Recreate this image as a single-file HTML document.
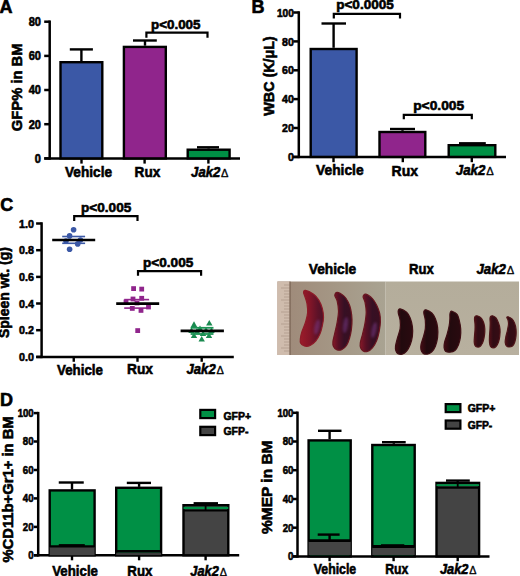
<!DOCTYPE html>
<html><head><meta charset="utf-8"><style>
html,body{margin:0;padding:0;background:#fff;overflow:hidden;}
svg{display:block;}
text{font-family:"Liberation Sans",sans-serif;font-weight:bold;fill:#000;stroke:#000;stroke-width:0.6px;}
</style></head><body>
<svg width="520" height="576" viewBox="0 0 520 576">
<rect width="520" height="576" fill="#fff"/>
<text x="-0.4" y="12.9" font-size="18" text-anchor="start" >A</text>
<line x1="49.7" y1="20.45" x2="49.7" y2="159.65" stroke="#000" stroke-width="2.5"/>
<line x1="44.2" y1="21.7" x2="49.7" y2="21.7" stroke="#000" stroke-width="2.5"/>
<text x="41.0" y="26.02" font-size="12" text-anchor="end" textLength="12.28" lengthAdjust="spacingAndGlyphs" >80</text>
<line x1="44.2" y1="55.9" x2="49.7" y2="55.9" stroke="#000" stroke-width="2.5"/>
<text x="41.0" y="60.22" font-size="12" text-anchor="end" textLength="12.28" lengthAdjust="spacingAndGlyphs" >60</text>
<line x1="44.2" y1="90.0" x2="49.7" y2="90.0" stroke="#000" stroke-width="2.5"/>
<text x="41.0" y="94.32" font-size="12" text-anchor="end" textLength="12.28" lengthAdjust="spacingAndGlyphs" >40</text>
<line x1="44.2" y1="124.2" x2="49.7" y2="124.2" stroke="#000" stroke-width="2.5"/>
<text x="41.0" y="128.52" font-size="12" text-anchor="end" textLength="12.28" lengthAdjust="spacingAndGlyphs" >20</text>
<line x1="44.2" y1="158.4" x2="49.7" y2="158.4" stroke="#000" stroke-width="2.5"/>
<text x="41.0" y="162.72" font-size="12" text-anchor="end" textLength="6.14" lengthAdjust="spacingAndGlyphs" >0</text>
<line x1="44.3" y1="158.4" x2="240" y2="158.4" stroke="#000" stroke-width="2.5"/>
<line x1="81.5" y1="158.4" x2="81.5" y2="163.6" stroke="#000" stroke-width="2.4"/>
<line x1="144.6" y1="158.4" x2="144.6" y2="163.6" stroke="#000" stroke-width="2.4"/>
<line x1="208.4" y1="158.4" x2="208.4" y2="163.6" stroke="#000" stroke-width="2.4"/>
<rect x="60.5" y="62.2" width="41.800000000000004" height="96.2" fill="#3b58a6" stroke="#000" stroke-width="2.4"/>
<line x1="81.4" y1="49.4" x2="81.4" y2="61" stroke="#000" stroke-width="2.4"/>
<line x1="69.8" y1="49.4" x2="92.9" y2="49.4" stroke="#000" stroke-width="2.4"/>
<rect x="123.9" y="46.900000000000006" width="41.9" height="111.5" fill="#90258c" stroke="#000" stroke-width="2.4"/>
<line x1="145" y1="40.5" x2="145" y2="45.7" stroke="#000" stroke-width="2.4"/>
<line x1="133" y1="40.5" x2="156.8" y2="40.5" stroke="#000" stroke-width="2.4"/>
<rect x="187.7" y="149.7" width="41.90000000000001" height="8.700000000000006" fill="#009045" stroke="#000" stroke-width="2.4"/>
<line x1="208.6" y1="147.3" x2="208.6" y2="148.5" stroke="#000" stroke-width="2.4"/>
<line x1="197" y1="147.3" x2="219" y2="147.3" stroke="#000" stroke-width="2.4"/>
<polyline points="146.4,37.8 146.4,32.6 207.5,32.6 207.5,37.8" fill="none" stroke="#000" stroke-width="2.2"/>
<text x="151" y="28.6" font-size="13.5" text-anchor="start" textLength="49.5" lengthAdjust="spacingAndGlyphs" >p&lt;0.005</text>
<text x="65" y="177.3" font-size="15" text-anchor="start" textLength="47" lengthAdjust="spacingAndGlyphs" >Vehicle</text>
<text x="134.6" y="177" font-size="15" text-anchor="start" textLength="25.7" lengthAdjust="spacingAndGlyphs" >Rux</text>
<text x="191.1" y="176.7" font-size="15" font-style="italic" textLength="29.14" lengthAdjust="spacingAndGlyphs">Jak2</text>
<text x="221.12" y="176.7" font-size="11.02" style="font-weight:normal;stroke-width:0.35px">&#916;</text>
<text transform="translate(22.3,131.2) rotate(-90)" x="0" y="0" font-size="15" textLength="87.8" lengthAdjust="spacingAndGlyphs">GFP% in BM</text>
<text x="251.4" y="13" font-size="18" text-anchor="start" >B</text>
<line x1="298.8" y1="11.25" x2="298.8" y2="158.15" stroke="#000" stroke-width="2.5"/>
<line x1="293.3" y1="12.5" x2="298.8" y2="12.5" stroke="#000" stroke-width="2.5"/>
<text x="293.8" y="16.64" font-size="11.5" text-anchor="end" textLength="16.88" lengthAdjust="spacingAndGlyphs" >100</text>
<line x1="293.3" y1="41.4" x2="298.8" y2="41.4" stroke="#000" stroke-width="2.5"/>
<text x="293.8" y="45.54" font-size="11.5" text-anchor="end" textLength="11.77" lengthAdjust="spacingAndGlyphs" >80</text>
<line x1="293.3" y1="70.3" x2="298.8" y2="70.3" stroke="#000" stroke-width="2.5"/>
<text x="293.8" y="74.44" font-size="11.5" text-anchor="end" textLength="11.77" lengthAdjust="spacingAndGlyphs" >60</text>
<line x1="293.3" y1="99.1" x2="298.8" y2="99.1" stroke="#000" stroke-width="2.5"/>
<text x="293.8" y="103.24" font-size="11.5" text-anchor="end" textLength="11.77" lengthAdjust="spacingAndGlyphs" >40</text>
<line x1="293.3" y1="128" x2="298.8" y2="128" stroke="#000" stroke-width="2.5"/>
<text x="293.8" y="132.14" font-size="11.5" text-anchor="end" textLength="11.77" lengthAdjust="spacingAndGlyphs" >20</text>
<line x1="293.3" y1="156.9" x2="298.8" y2="156.9" stroke="#000" stroke-width="2.5"/>
<text x="293.8" y="161.04" font-size="11.5" text-anchor="end" textLength="5.88" lengthAdjust="spacingAndGlyphs" >0</text>
<line x1="293" y1="156.9" x2="506" y2="156.9" stroke="#000" stroke-width="2.5"/>
<line x1="333.5" y1="156.9" x2="333.5" y2="162.2" stroke="#000" stroke-width="2.4"/>
<line x1="402.8" y1="156.9" x2="402.8" y2="162.2" stroke="#000" stroke-width="2.4"/>
<line x1="471.8" y1="156.9" x2="471.8" y2="162.2" stroke="#000" stroke-width="2.4"/>
<rect x="310.7" y="49.0" width="45.90000000000001" height="107.9" fill="#3b58a6" stroke="#000" stroke-width="2.4"/>
<line x1="333.6" y1="23.5" x2="333.6" y2="47.8" stroke="#000" stroke-width="2.4"/>
<line x1="321.5" y1="23.5" x2="346" y2="23.5" stroke="#000" stroke-width="2.4"/>
<rect x="379.5" y="132.0" width="45.79999999999999" height="24.899999999999995" fill="#90258c" stroke="#000" stroke-width="2.4"/>
<line x1="402.5" y1="129" x2="402.5" y2="130.8" stroke="#000" stroke-width="2.4"/>
<line x1="390" y1="129" x2="415" y2="129" stroke="#000" stroke-width="2.4"/>
<rect x="448.7" y="145.2" width="46.6" height="11.700000000000006" fill="#009045" stroke="#000" stroke-width="2.4"/>
<line x1="472" y1="143.3" x2="472" y2="144" stroke="#000" stroke-width="2.4"/>
<line x1="459" y1="143.3" x2="485.8" y2="143.3" stroke="#000" stroke-width="2.4"/>
<polyline points="333.8,18.6 333.8,13.8 400,13.8 400,18.6" fill="none" stroke="#000" stroke-width="2.2"/>
<text x="336.2" y="9.1" font-size="13.5" text-anchor="start" textLength="57.6" lengthAdjust="spacingAndGlyphs" >p&lt;0.0005</text>
<polyline points="403.8,119.3 403.8,114.9 471.8,114.9 471.8,119.3" fill="none" stroke="#000" stroke-width="2.2"/>
<text x="413.2" y="110.3" font-size="13.5" text-anchor="start" textLength="51" lengthAdjust="spacingAndGlyphs" >p&lt;0.005</text>
<text x="316" y="175.2" font-size="15" text-anchor="start" textLength="47.6" lengthAdjust="spacingAndGlyphs" >Vehicle</text>
<text x="391.5" y="175.6" font-size="15" text-anchor="start" textLength="26.5" lengthAdjust="spacingAndGlyphs" >Rux</text>
<text x="455.8" y="174.8" font-size="15" font-style="italic" textLength="29.60" lengthAdjust="spacingAndGlyphs">Jak2</text>
<text x="486.30" y="174.8" font-size="11.20" style="font-weight:normal;stroke-width:0.35px">&#916;</text>
<text transform="translate(274.2,115.7) rotate(-90)" x="0" y="0" font-size="14" textLength="79.5" lengthAdjust="spacingAndGlyphs">WBC (K/&#956;L)</text>
<text x="0.3" y="211.2" font-size="18" text-anchor="start" >C</text>
<line x1="41.6" y1="222.25" x2="41.6" y2="358.15" stroke="#000" stroke-width="2.5"/>
<line x1="36.1" y1="223.5" x2="41.6" y2="223.5" stroke="#000" stroke-width="2.5"/>
<text x="33.9" y="227.64" font-size="11.5" text-anchor="end" textLength="14.87" lengthAdjust="spacingAndGlyphs" >1.0</text>
<line x1="36.1" y1="250.2" x2="41.6" y2="250.2" stroke="#000" stroke-width="2.5"/>
<text x="33.9" y="254.33999999999997" font-size="11.5" text-anchor="end" textLength="14.87" lengthAdjust="spacingAndGlyphs" >0.8</text>
<line x1="36.1" y1="276.9" x2="41.6" y2="276.9" stroke="#000" stroke-width="2.5"/>
<text x="33.9" y="281.03999999999996" font-size="11.5" text-anchor="end" textLength="14.87" lengthAdjust="spacingAndGlyphs" >0.6</text>
<line x1="36.1" y1="303.5" x2="41.6" y2="303.5" stroke="#000" stroke-width="2.5"/>
<text x="33.9" y="307.64" font-size="11.5" text-anchor="end" textLength="14.87" lengthAdjust="spacingAndGlyphs" >0.4</text>
<line x1="36.1" y1="330.2" x2="41.6" y2="330.2" stroke="#000" stroke-width="2.5"/>
<text x="33.9" y="334.34" font-size="11.5" text-anchor="end" textLength="14.87" lengthAdjust="spacingAndGlyphs" >0.2</text>
<line x1="36.1" y1="356.9" x2="41.6" y2="356.9" stroke="#000" stroke-width="2.5"/>
<text x="33.9" y="361.03999999999996" font-size="11.5" text-anchor="end" textLength="14.87" lengthAdjust="spacingAndGlyphs" >0.0</text>
<line x1="36.3" y1="356.9" x2="233.8" y2="356.9" stroke="#000" stroke-width="2.5"/>
<line x1="73.75" y1="356.9" x2="73.75" y2="361.8" stroke="#000" stroke-width="2.4"/>
<line x1="137.5" y1="356.9" x2="137.5" y2="361.8" stroke="#000" stroke-width="2.4"/>
<line x1="201.7" y1="356.9" x2="201.7" y2="361.8" stroke="#000" stroke-width="2.4"/>
<circle cx="73.6" cy="229.8" r="2.8" fill="#3b58a6"/>
<circle cx="69.6" cy="249.3" r="2.8" fill="#3b58a6"/>
<circle cx="69.6" cy="235.9" r="2.8" fill="#3b58a6"/>
<circle cx="77.7" cy="243.9" r="2.8" fill="#3b58a6"/>
<circle cx="80.4" cy="240" r="2.8" fill="#3b58a6"/>
<circle cx="66" cy="241" r="2.8" fill="#3b58a6"/>
<line x1="62.2" y1="236.5" x2="85.1" y2="236.5" stroke="#3b58a6" stroke-width="1.6"/>
<line x1="62.2" y1="243.3" x2="85.1" y2="243.3" stroke="#3b58a6" stroke-width="1.6"/>
<line x1="52.2" y1="240" x2="95.2" y2="240" stroke="#000" stroke-width="2.7"/>
<rect x="131.2" y="286.20000000000005" width="4.8" height="4.8" fill="#90258c"/>
<rect x="139.29999999999998" y="286.70000000000005" width="4.8" height="4.8" fill="#90258c"/>
<rect x="130.6" y="296.6" width="4.8" height="4.8" fill="#90258c"/>
<rect x="139.29999999999998" y="295.90000000000003" width="4.8" height="4.8" fill="#90258c"/>
<rect x="129.9" y="306.0" width="4.8" height="4.8" fill="#90258c"/>
<rect x="138.6" y="308.0" width="4.8" height="4.8" fill="#90258c"/>
<rect x="146.1" y="304.6" width="4.8" height="4.8" fill="#90258c"/>
<rect x="135.29999999999998" y="328.20000000000005" width="4.8" height="4.8" fill="#90258c"/>
<rect x="123.6" y="299.6" width="4.8" height="4.8" fill="#90258c"/>
<rect x="134.6" y="300.6" width="4.8" height="4.8" fill="#90258c"/>
<line x1="124.2" y1="299.6" x2="149.1" y2="299.6" stroke="#90258c" stroke-width="1.6"/>
<line x1="124.2" y1="308.1" x2="149.1" y2="308.1" stroke="#90258c" stroke-width="1.6"/>
<line x1="116.2" y1="303.6" x2="159.2" y2="303.6" stroke="#000" stroke-width="2.7"/>
<polygon points="194,321.3 190.8,326.90000000000003 197.2,326.90000000000003" fill="#1a8a50"/>
<polygon points="209.3,320 206.10000000000002,325.6 212.5,325.6" fill="#1a8a50"/>
<polygon points="201.7,335.9 198.5,341.5 204.89999999999998,341.5" fill="#1a8a50"/>
<polygon points="194,332.5 190.8,338.1 197.2,338.1" fill="#1a8a50"/>
<polygon points="209,332.5 205.8,338.1 212.2,338.1" fill="#1a8a50"/>
<polygon points="197,328 193.8,333.6 200.2,333.6" fill="#1a8a50"/>
<polygon points="206,327 202.8,332.6 209.2,332.6" fill="#1a8a50"/>
<polygon points="200,325.5 196.8,331.1 203.2,331.1" fill="#1a8a50"/>
<polygon points="203,330.5 199.8,336.1 206.2,336.1" fill="#1a8a50"/>
<polygon points="191.5,327.5 188.3,333.1 194.7,333.1" fill="#1a8a50"/>
<polygon points="211.5,327.5 208.3,333.1 214.7,333.1" fill="#1a8a50"/>
<line x1="190.6" y1="327.8" x2="213.5" y2="327.8" stroke="#1b9455" stroke-width="1.8"/>
<line x1="190.6" y1="334" x2="213.5" y2="334" stroke="#1b9455" stroke-width="1.8"/>
<line x1="180.6" y1="330.8" x2="223.9" y2="330.8" stroke="#000" stroke-width="2.7"/>
<polyline points="74.2,221 74.2,216.2 137.5,216.2 137.5,221" fill="none" stroke="#000" stroke-width="2.2"/>
<text x="81" y="212.2" font-size="13.5" text-anchor="start" textLength="50.3" lengthAdjust="spacingAndGlyphs" >p&lt;0.005</text>
<polyline points="138,275.8 138,271.2 201.1,271.2 201.1,275.8" fill="none" stroke="#000" stroke-width="2.2"/>
<text x="143" y="267.1" font-size="13.5" text-anchor="start" textLength="50.3" lengthAdjust="spacingAndGlyphs" >p&lt;0.005</text>
<text x="57" y="374.5" font-size="15" text-anchor="start" textLength="46" lengthAdjust="spacingAndGlyphs" >Vehicle</text>
<text x="127" y="373.8" font-size="15" text-anchor="start" textLength="26" lengthAdjust="spacingAndGlyphs" >Rux</text>
<text x="186.6" y="373.9" font-size="15" font-style="italic" textLength="29.06" lengthAdjust="spacingAndGlyphs">Jak2</text>
<text x="216.54" y="373.9" font-size="11.00" style="font-weight:normal;stroke-width:0.35px">&#916;</text>
<text transform="translate(9.2,338.1) rotate(-90)" x="0" y="0" font-size="15" textLength="91" lengthAdjust="spacingAndGlyphs">Spleen wt. (g)</text>
<defs><linearGradient id="gv1" x1="0" y1="0" x2="1" y2="0"><stop offset="0" stop-color="#9c1c2a"/><stop offset="0.4" stop-color="#841628"/><stop offset="0.75" stop-color="#5e1228"/><stop offset="1" stop-color="#4e1226"/></linearGradient><linearGradient id="gv2" x1="0" y1="0" x2="1" y2="0"><stop offset="0" stop-color="#861828"/><stop offset="0.3" stop-color="#561024"/><stop offset="0.6" stop-color="#361024"/><stop offset="1" stop-color="#3a0e20"/></linearGradient><linearGradient id="gr" x1="0" y1="0" x2="1" y2="0"><stop offset="0" stop-color="#440c14"/><stop offset="0.35" stop-color="#220a0e"/><stop offset="1" stop-color="#2a0a10"/></linearGradient><linearGradient id="gj" x1="0" y1="0" x2="1" y2="0"><stop offset="0" stop-color="#521018"/><stop offset="0.35" stop-color="#300c14"/><stop offset="1" stop-color="#380c14"/></linearGradient><linearGradient id="bgv" x1="0" y1="0" x2="1" y2="0"><stop offset="0" stop-color="#9e8878"/><stop offset="0.5" stop-color="#a49684"/><stop offset="1" stop-color="#a9a392"/></linearGradient><filter id="blr" x="-1" y="-1" width="3" height="3"><feGaussianBlur stdDeviation="1.3"/></filter><linearGradient id="bgr" x1="0" y1="0" x2="0" y2="1"><stop offset="0" stop-color="#b4ad9b"/><stop offset="1" stop-color="#b8b09f"/></linearGradient></defs>
<rect x="277.5" y="281.5" width="108" height="73.5" fill="url(#bgv)"/>
<rect x="385.4" y="281.5" width="133.6" height="73.5" fill="url(#bgr)"/>
<rect x="277.2" y="281.5" width="12.6" height="73.5" fill="#cfbcad"/>
<line x1="284" y1="285" x2="289.5" y2="285" stroke="#9a8676" stroke-width="0.5"/>
<line x1="281" y1="288" x2="289.5" y2="288" stroke="#9a8676" stroke-width="0.5"/>
<line x1="284" y1="291" x2="289.5" y2="291" stroke="#9a8676" stroke-width="0.5"/>
<line x1="284" y1="294" x2="289.5" y2="294" stroke="#9a8676" stroke-width="0.5"/>
<line x1="284" y1="297" x2="289.5" y2="297" stroke="#9a8676" stroke-width="0.5"/>
<line x1="281" y1="300" x2="289.5" y2="300" stroke="#9a8676" stroke-width="0.5"/>
<line x1="284" y1="303" x2="289.5" y2="303" stroke="#9a8676" stroke-width="0.5"/>
<line x1="284" y1="306" x2="289.5" y2="306" stroke="#9a8676" stroke-width="0.5"/>
<line x1="284" y1="309" x2="289.5" y2="309" stroke="#9a8676" stroke-width="0.5"/>
<line x1="281" y1="312" x2="289.5" y2="312" stroke="#9a8676" stroke-width="0.5"/>
<line x1="284" y1="315" x2="289.5" y2="315" stroke="#9a8676" stroke-width="0.5"/>
<line x1="284" y1="318" x2="289.5" y2="318" stroke="#9a8676" stroke-width="0.5"/>
<line x1="284" y1="321" x2="289.5" y2="321" stroke="#9a8676" stroke-width="0.5"/>
<line x1="281" y1="324" x2="289.5" y2="324" stroke="#9a8676" stroke-width="0.5"/>
<line x1="284" y1="327" x2="289.5" y2="327" stroke="#9a8676" stroke-width="0.5"/>
<line x1="284" y1="330" x2="289.5" y2="330" stroke="#9a8676" stroke-width="0.5"/>
<line x1="284" y1="333" x2="289.5" y2="333" stroke="#9a8676" stroke-width="0.5"/>
<line x1="281" y1="336" x2="289.5" y2="336" stroke="#9a8676" stroke-width="0.5"/>
<line x1="284" y1="339" x2="289.5" y2="339" stroke="#9a8676" stroke-width="0.5"/>
<line x1="284" y1="342" x2="289.5" y2="342" stroke="#9a8676" stroke-width="0.5"/>
<line x1="284" y1="345" x2="289.5" y2="345" stroke="#9a8676" stroke-width="0.5"/>
<line x1="281" y1="348" x2="289.5" y2="348" stroke="#9a8676" stroke-width="0.5"/>
<line x1="284" y1="351" x2="289.5" y2="351" stroke="#9a8676" stroke-width="0.5"/>
<line x1="290" y1="281.5" x2="290" y2="355" stroke="#6e5848" stroke-width="1"/>
<path d="M305.5,290.3 C307.2,290.6 311.4,292.7 313.6,294.3 C315.8,295.9 317.4,297.8 318.8,300.1 C320.2,302.4 321.5,305.4 322.3,308.3 C323.1,311.2 323.5,314.7 323.5,317.6 C323.5,320.5 322.9,323.0 322.3,325.7 C321.7,328.4 321.1,331.3 320.0,333.8 C318.9,336.3 317.5,338.9 315.9,340.8 C314.2,342.8 312.0,344.6 310.1,345.5 C308.2,346.4 305.9,346.4 304.3,346.0 C302.7,345.6 301.2,344.4 300.6,343.1 C300.0,341.9 300.2,340.4 300.4,338.5 C300.6,336.6 301.1,334.2 302.0,331.5 C302.9,328.8 304.6,325.3 305.5,322.2 C306.4,319.1 307.4,316.0 307.6,312.9 C307.9,309.8 307.4,306.3 307.0,303.6 C306.6,300.9 305.5,298.5 304.9,296.6 C304.3,294.7 303.5,293.4 303.6,292.3 C303.7,291.2 303.8,290.0 305.5,290.3Z" fill="url(#gv1)" stroke="#8e1c28" stroke-width="1.2"/>
<path d="M337.2,292.3 C338.7,292.4 342.1,294.5 344.0,296.1 C345.9,297.8 347.2,299.9 348.3,302.2 C349.4,304.4 350.2,306.7 350.8,309.6 C351.4,312.5 351.9,316.2 352.0,319.5 C352.1,322.8 351.8,326.3 351.4,329.4 C351.0,332.5 350.4,335.3 349.6,338.0 C348.8,340.7 347.8,343.4 346.5,345.4 C345.2,347.3 343.2,349.0 341.6,349.7 C340.0,350.4 338.0,350.2 336.6,349.7 C335.2,349.2 334.1,347.9 333.5,346.6 C332.9,345.3 332.7,344.0 332.9,341.7 C333.1,339.4 334.1,336.3 334.8,333.0 C335.5,329.7 336.6,325.7 337.2,322.0 C337.8,318.3 338.5,314.4 338.5,310.9 C338.5,307.4 337.8,303.6 337.2,301.0 C336.6,298.4 334.8,296.9 334.8,295.5 C334.8,294.1 335.7,292.2 337.2,292.3Z" fill="url(#gv2)" stroke="#6a1620" stroke-width="1.2"/>
<path d="M365.8,294.2 C367.4,294.5 370.6,296.8 372.4,298.6 C374.2,300.5 375.5,302.9 376.7,305.3 C377.9,307.8 379.1,310.5 379.7,313.3 C380.3,316.1 380.5,318.9 380.4,322.0 C380.3,325.1 379.7,328.7 379.1,331.8 C378.5,334.9 377.8,337.7 376.7,340.4 C375.6,343.1 373.9,345.9 372.4,347.8 C370.8,349.7 368.9,351.0 367.4,351.5 C365.8,352.0 364.2,351.5 363.1,350.9 C362.0,350.3 361.1,349.1 360.6,347.8 C360.1,346.5 360.0,345.1 360.3,342.9 C360.6,340.6 361.7,337.6 362.5,334.3 C363.3,331.0 364.4,326.9 365.0,323.2 C365.6,319.5 366.2,315.6 366.2,312.1 C366.2,308.6 365.5,304.8 365.0,302.2 C364.5,299.6 363.0,298.0 363.1,296.7 C363.2,295.4 364.2,293.9 365.8,294.2Z" fill="url(#gv2)" stroke="#6a1620" stroke-width="1.2"/>
<path d="M400.2,308.9 C401.6,309.2 404.9,310.8 406.6,312.3 C408.3,313.8 409.2,315.6 410.2,318.0 C411.2,320.4 412.0,323.7 412.4,326.7 C412.8,329.7 412.8,333.1 412.4,336.1 C412.0,339.1 411.2,342.2 410.2,344.7 C409.2,347.2 407.9,349.6 406.6,351.2 C405.3,352.8 403.8,353.7 402.3,354.1 C400.9,354.5 399.0,354.3 397.9,353.7 C396.8,353.1 396.2,351.8 395.8,350.5 C395.4,349.2 395.3,348.1 395.5,346.2 C395.7,344.3 396.4,341.8 397.2,338.9 C398.0,336.0 399.6,331.9 400.1,328.8 C400.6,325.7 400.4,322.7 400.1,320.2 C399.8,317.7 398.7,315.3 398.4,313.7 C398.1,312.1 398.0,311.3 398.3,310.5 C398.6,309.7 398.8,308.6 400.2,308.9Z" fill="url(#gr)" stroke="#3e0e14" stroke-width="1.2"/>
<path d="M426.0,309.8 C427.3,310.1 430.2,311.5 431.8,313.0 C433.4,314.5 434.4,316.4 435.4,318.8 C436.4,321.2 437.2,324.3 437.6,327.4 C438.0,330.5 438.0,334.4 437.6,337.5 C437.2,340.6 436.4,343.8 435.4,346.2 C434.4,348.6 433.1,350.6 431.8,351.9 C430.5,353.2 428.9,353.9 427.5,354.1 C426.1,354.4 424.3,354.1 423.2,353.4 C422.1,352.7 421.4,351.2 421.0,349.8 C420.6,348.4 420.6,346.8 421.0,344.7 C421.4,342.6 422.5,340.1 423.2,337.5 C423.9,334.9 424.9,331.7 425.3,328.8 C425.7,325.9 425.5,322.7 425.3,320.2 C425.1,317.7 424.1,315.2 423.9,313.7 C423.7,312.2 423.6,311.6 424.0,311.0 C424.4,310.4 424.7,309.5 426.0,309.8Z" fill="url(#gr)" stroke="#3e0e14" stroke-width="1.2"/>
<path d="M452.0,311.3 C453.1,311.7 455.9,312.9 457.1,314.4 C458.3,315.9 458.6,317.8 459.2,320.2 C459.8,322.6 460.5,325.9 460.7,328.8 C460.9,331.7 460.8,334.9 460.4,337.5 C460.0,340.1 459.4,342.5 458.5,344.7 C457.6,346.9 456.3,349.2 454.9,350.5 C453.5,351.8 451.5,352.1 449.9,352.2 C448.3,352.3 446.5,352.0 445.5,351.2 C444.5,350.4 444.3,349.0 444.1,347.6 C443.9,346.2 444.0,344.8 444.5,342.6 C445.0,340.4 446.2,337.4 447.0,334.6 C447.8,331.8 448.6,328.6 449.1,326.0 C449.6,323.4 449.8,320.7 449.9,318.8 C450.0,316.9 449.8,315.5 449.9,314.4 C450.0,313.3 450.1,312.5 450.5,312.0 C450.9,311.5 450.9,310.9 452.0,311.3Z" fill="url(#gr)" stroke="#3e0e14" stroke-width="1.2"/>
<path d="M477.0,315.8 C477.9,316.0 479.5,316.6 480.5,317.5 C481.5,318.4 482.3,319.6 483.0,321.0 C483.7,322.4 484.2,324.2 484.5,326.0 C484.8,327.8 484.9,330.0 484.8,332.0 C484.7,334.0 484.4,336.2 484.0,338.0 C483.6,339.8 483.2,341.6 482.5,343.0 C481.8,344.4 480.9,345.8 480.0,346.5 C479.1,347.2 477.8,347.2 477.0,347.0 C476.2,346.8 475.5,346.3 475.0,345.5 C474.5,344.7 474.3,343.6 474.2,342.0 C474.1,340.4 474.4,338.0 474.5,336.0 C474.6,334.0 474.9,332.0 475.0,330.0 C475.1,328.0 475.1,325.8 475.0,324.0 C474.9,322.2 474.5,320.2 474.5,319.0 C474.5,317.8 474.6,317.0 475.0,316.5 C475.4,316.0 476.1,315.6 477.0,315.8Z" fill="url(#gj)" stroke="#4e1418" stroke-width="1.2"/>
<path d="M492.5,315.8 C493.4,316.1 495.0,316.8 496.0,318.0 C497.0,319.2 497.8,321.2 498.5,323.0 C499.2,324.8 499.8,326.8 500.0,329.0 C500.2,331.2 500.1,333.8 499.8,336.0 C499.6,338.2 499.1,340.2 498.5,342.0 C497.9,343.8 496.9,345.5 496.0,346.5 C495.1,347.5 493.9,347.8 493.0,347.8 C492.1,347.8 491.1,347.4 490.5,346.5 C489.9,345.6 489.7,344.2 489.5,342.5 C489.3,340.8 489.4,338.2 489.5,336.0 C489.6,333.8 489.9,331.2 490.0,329.0 C490.1,326.8 490.2,324.8 490.2,323.0 C490.2,321.2 489.9,319.6 490.0,318.5 C490.1,317.4 490.2,316.9 490.6,316.5 C491.0,316.1 491.6,315.6 492.5,315.8Z" fill="url(#gj)" stroke="#4e1418" stroke-width="1.2"/>
<path d="M508.0,316.8 C508.9,317.1 510.9,318.0 512.0,319.0 C513.1,320.0 513.8,321.3 514.5,323.0 C515.2,324.7 515.8,326.8 516.0,329.0 C516.2,331.2 516.2,333.8 516.0,336.0 C515.8,338.2 515.4,340.3 514.8,342.0 C514.2,343.7 513.5,345.2 512.5,346.0 C511.5,346.8 510.0,347.0 509.0,347.0 C508.0,347.0 507.1,346.8 506.5,346.0 C505.9,345.2 505.3,344.0 505.2,342.5 C505.1,341.0 505.4,339.1 505.8,337.0 C506.2,334.9 507.1,332.2 507.5,330.0 C507.9,327.8 508.4,325.7 508.5,324.0 C508.6,322.3 508.3,321.1 508.0,320.0 C507.7,318.9 506.8,318.0 506.8,317.5 C506.8,317.0 507.1,316.6 508.0,316.8Z" fill="url(#gj)" stroke="#4e1418" stroke-width="1.2"/>
<ellipse cx="317" cy="327" rx="2.6" ry="7.5" transform="rotate(12 317 327)" fill="#7a3a8a" opacity="0.5" filter="url(#blr)"/>
<ellipse cx="345.5" cy="325" rx="2.4" ry="8" transform="rotate(8 345.5 325)" fill="#7a3a8a" opacity="0.5" filter="url(#blr)"/>
<ellipse cx="374" cy="330" rx="2.4" ry="8" transform="rotate(12 374 330)" fill="#7a3a8a" opacity="0.5" filter="url(#blr)"/>
<text x="308.75" y="274.3" font-size="15" text-anchor="start" textLength="47.5" lengthAdjust="spacingAndGlyphs" >Vehicle</text>
<text x="409" y="274.2" font-size="15" text-anchor="start" textLength="24.8" lengthAdjust="spacingAndGlyphs" >Rux</text>
<text x="476.5" y="273.9" font-size="15" font-style="italic" textLength="29.45" lengthAdjust="spacingAndGlyphs">Jak2</text>
<text x="506.84" y="273.9" font-size="11.14" style="font-weight:normal;stroke-width:0.35px">&#916;</text>
<text x="0" y="405.7" font-size="18" text-anchor="start" >D</text>
<line x1="38.2" y1="411.85" x2="38.2" y2="556.55" stroke="#000" stroke-width="2.5"/>
<line x1="33.7" y1="413.1" x2="38.2" y2="413.1" stroke="#000" stroke-width="2.5"/>
<text x="33.6" y="417.06" font-size="11" text-anchor="end" textLength="15.97" lengthAdjust="spacingAndGlyphs" >100</text>
<line x1="33.7" y1="441.5" x2="38.2" y2="441.5" stroke="#000" stroke-width="2.5"/>
<text x="33.6" y="445.46" font-size="11" text-anchor="end" textLength="10.77" lengthAdjust="spacingAndGlyphs" >80</text>
<line x1="33.7" y1="470" x2="38.2" y2="470" stroke="#000" stroke-width="2.5"/>
<text x="33.6" y="473.96" font-size="11" text-anchor="end" textLength="10.77" lengthAdjust="spacingAndGlyphs" >60</text>
<line x1="33.7" y1="498.4" x2="38.2" y2="498.4" stroke="#000" stroke-width="2.5"/>
<text x="33.6" y="502.35999999999996" font-size="11" text-anchor="end" textLength="10.77" lengthAdjust="spacingAndGlyphs" >40</text>
<line x1="33.7" y1="526.9" x2="38.2" y2="526.9" stroke="#000" stroke-width="2.5"/>
<text x="33.6" y="530.86" font-size="11" text-anchor="end" textLength="10.77" lengthAdjust="spacingAndGlyphs" >20</text>
<line x1="33.7" y1="555.3" x2="38.2" y2="555.3" stroke="#000" stroke-width="2.5"/>
<text x="33.6" y="559.26" font-size="11" text-anchor="end" textLength="5.38" lengthAdjust="spacingAndGlyphs" >0</text>
<line x1="34" y1="555.3" x2="239.2" y2="555.3" stroke="#000" stroke-width="2.5"/>
<line x1="72" y1="555.3" x2="72" y2="560.3" stroke="#000" stroke-width="2.4"/>
<line x1="139.1" y1="555.3" x2="139.1" y2="560.3" stroke="#000" stroke-width="2.4"/>
<line x1="205.6" y1="555.3" x2="205.6" y2="560.3" stroke="#000" stroke-width="2.4"/>
<rect x="49.7" y="490.4" width="44.9" height="64.89999999999996" fill="#009045" stroke="#000" stroke-width="2.4"/>
<rect x="49.7" y="547" width="44.9" height="8.3" fill="#444444"/>
<line x1="49.7" y1="546.4" x2="94.6" y2="546.4" stroke="#000" stroke-width="2.2"/>
<line x1="58.8" y1="545.2" x2="84.8" y2="545.2" stroke="#000" stroke-width="2.2"/>
<line x1="72" y1="482.5" x2="72" y2="489.5" stroke="#000" stroke-width="2.4"/>
<line x1="58.75" y1="482.5" x2="83.75" y2="482.5" stroke="#000" stroke-width="2.4"/>
<rect x="116.2" y="487.8" width="44.90000000000001" height="67.49999999999993" fill="#009045" stroke="#000" stroke-width="2.4"/>
<rect x="116.2" y="552.5" width="44.9" height="2.6" fill="#3a3a3a"/>
<line x1="116.2" y1="551.3" x2="161.1" y2="551.3" stroke="#000" stroke-width="2.6"/>
<line x1="139.1" y1="482.9" x2="139.1" y2="486.9" stroke="#000" stroke-width="2.4"/>
<line x1="126.8" y1="482.9" x2="151" y2="482.9" stroke="#000" stroke-width="2.4"/>
<rect x="183.5" y="505.2" width="44.79999999999999" height="50.09999999999995" fill="#444444" stroke="#000" stroke-width="2.4"/>
<rect x="183.5" y="506.8" width="44.8" height="2.3" fill="#009045"/>
<line x1="183.5" y1="510.5" x2="228.3" y2="510.5" stroke="#000" stroke-width="2.2"/>
<line x1="205.6" y1="503" x2="205.6" y2="510" stroke="#000" stroke-width="1.8"/>
<line x1="205.6" y1="503.3" x2="205.6" y2="504" stroke="#000" stroke-width="2.4"/>
<line x1="193.6" y1="503.3" x2="218" y2="503.3" stroke="#000" stroke-width="2.4"/>
<rect x="199.2" y="408.8" width="17" height="10.4" fill="#000"/>
<rect x="201.4" y="411" width="12.6" height="6" fill="#009045"/>
<rect x="199.2" y="425.7" width="17" height="10.5" fill="#000"/>
<rect x="201.4" y="427.9" width="12.6" height="6.1" fill="#444444"/>
<text x="223.4" y="420" font-size="11" text-anchor="start" textLength="27.6" lengthAdjust="spacingAndGlyphs" >GFP+</text>
<text x="223.4" y="434.6" font-size="11" text-anchor="start" textLength="25" lengthAdjust="spacingAndGlyphs" >GFP-</text>
<text x="52.2" y="576.3" font-size="15" text-anchor="start" textLength="45.8" lengthAdjust="spacingAndGlyphs" >Vehicle</text>
<text x="127.3" y="576.3" font-size="15" text-anchor="start" textLength="25.2" lengthAdjust="spacingAndGlyphs" >Rux</text>
<text x="190.3" y="576" font-size="15" font-style="italic" textLength="28.52" lengthAdjust="spacingAndGlyphs">Jak2</text>
<text x="219.69" y="576" font-size="10.79" style="font-weight:normal;stroke-width:0.35px">&#916;</text>
<text transform="translate(12.7,562.6) rotate(-90)" x="0" y="0" font-size="14" textLength="146.3" lengthAdjust="spacingAndGlyphs">%CD11b+Gr1+ in BM</text>
<line x1="297.5" y1="411.55" x2="297.5" y2="557.65" stroke="#000" stroke-width="2.5"/>
<line x1="293.0" y1="412.8" x2="297.5" y2="412.8" stroke="#000" stroke-width="2.5"/>
<text x="293.4" y="416.76" font-size="11" text-anchor="end" textLength="15.97" lengthAdjust="spacingAndGlyphs" >100</text>
<line x1="293.0" y1="441.5" x2="297.5" y2="441.5" stroke="#000" stroke-width="2.5"/>
<text x="293.4" y="445.46" font-size="11" text-anchor="end" textLength="10.77" lengthAdjust="spacingAndGlyphs" >80</text>
<line x1="293.0" y1="470.2" x2="297.5" y2="470.2" stroke="#000" stroke-width="2.5"/>
<text x="293.4" y="474.15999999999997" font-size="11" text-anchor="end" textLength="10.77" lengthAdjust="spacingAndGlyphs" >60</text>
<line x1="293.0" y1="499" x2="297.5" y2="499" stroke="#000" stroke-width="2.5"/>
<text x="293.4" y="502.96" font-size="11" text-anchor="end" textLength="10.77" lengthAdjust="spacingAndGlyphs" >40</text>
<line x1="293.0" y1="527.7" x2="297.5" y2="527.7" stroke="#000" stroke-width="2.5"/>
<text x="293.4" y="531.6600000000001" font-size="11" text-anchor="end" textLength="10.77" lengthAdjust="spacingAndGlyphs" >20</text>
<line x1="293.0" y1="556.4" x2="297.5" y2="556.4" stroke="#000" stroke-width="2.5"/>
<text x="293.4" y="560.36" font-size="11" text-anchor="end" textLength="5.38" lengthAdjust="spacingAndGlyphs" >0</text>
<line x1="293" y1="556.4" x2="489.5" y2="556.4" stroke="#000" stroke-width="2.5"/>
<line x1="329.6" y1="556.4" x2="329.6" y2="561.2" stroke="#000" stroke-width="2.4"/>
<line x1="393.6" y1="556.4" x2="393.6" y2="561.2" stroke="#000" stroke-width="2.4"/>
<line x1="457.7" y1="556.4" x2="457.7" y2="561.2" stroke="#000" stroke-width="2.4"/>
<rect x="308.59999999999997" y="440.4" width="42.1" height="115.99999999999999" fill="#009045" stroke="#000" stroke-width="2.4"/>
<rect x="308.6" y="541.5" width="42.1" height="13.5" fill="#444444"/>
<line x1="308.6" y1="540.6" x2="350.7" y2="540.6" stroke="#000" stroke-width="2.6"/>
<line x1="329.6" y1="430.8" x2="329.6" y2="439.2" stroke="#000" stroke-width="2.4"/>
<line x1="318" y1="430.8" x2="341.5" y2="430.8" stroke="#000" stroke-width="2.4"/>
<line x1="329.6" y1="534.6" x2="329.6" y2="540.6" stroke="#000" stroke-width="2.4"/>
<line x1="317.7" y1="534.6" x2="339.6" y2="534.6" stroke="#000" stroke-width="2.4"/>
<rect x="372.3" y="445.0" width="42.399999999999956" height="111.39999999999996" fill="#009045" stroke="#000" stroke-width="2.4"/>
<rect x="372.3" y="547.3" width="42.4" height="7.7" fill="#444444"/>
<line x1="372.3" y1="546.5" x2="414.7" y2="546.5" stroke="#000" stroke-width="3"/>
<line x1="381" y1="545" x2="404.3" y2="545" stroke="#000" stroke-width="1.6"/>
<line x1="393.8" y1="442.2" x2="393.8" y2="443.8" stroke="#000" stroke-width="2.4"/>
<line x1="382" y1="442.2" x2="405.7" y2="442.2" stroke="#000" stroke-width="2.4"/>
<rect x="436.5" y="482.9" width="42.6" height="73.49999999999999" fill="#444444" stroke="#000" stroke-width="2.4"/>
<rect x="436.5" y="484.2" width="42.6" height="2.0" fill="#009045"/>
<line x1="436.5" y1="487.6" x2="479.1" y2="487.6" stroke="#000" stroke-width="2.4"/>
<line x1="457.7" y1="480" x2="457.7" y2="487" stroke="#000" stroke-width="1.8"/>
<line x1="457.7" y1="480.6" x2="457.7" y2="481.7" stroke="#000" stroke-width="2.4"/>
<line x1="446" y1="480.6" x2="469.8" y2="480.6" stroke="#000" stroke-width="2.4"/>
<rect x="444.6" y="403" width="16.9" height="10.2" fill="#000"/>
<rect x="446.8" y="405.2" width="12.5" height="5.8" fill="#009045"/>
<rect x="444.6" y="419.4" width="16.9" height="10.4" fill="#000"/>
<rect x="446.8" y="421.6" width="12.5" height="6" fill="#444444"/>
<text x="467.7" y="412.3" font-size="11" text-anchor="start" textLength="27.7" lengthAdjust="spacingAndGlyphs" >GFP+</text>
<text x="467.7" y="428.6" font-size="11" text-anchor="start" textLength="24.6" lengthAdjust="spacingAndGlyphs" >GFP-</text>
<text x="313.8" y="573.9" font-size="14.5" text-anchor="start" textLength="42.4" lengthAdjust="spacingAndGlyphs" >Vehicle</text>
<text x="385.3" y="573.9" font-size="14.5" text-anchor="start" textLength="23.1" lengthAdjust="spacingAndGlyphs" >Rux</text>
<text x="440" y="573.8" font-size="14.5" font-style="italic" textLength="28.44" lengthAdjust="spacingAndGlyphs">Jak2</text>
<text x="469.31" y="573.8" font-size="10.76" style="font-weight:normal;stroke-width:0.35px">&#916;</text>
<text transform="translate(272.4,534) rotate(-90)" x="0" y="0" font-size="14" textLength="93.5" lengthAdjust="spacingAndGlyphs">%MEP in BM</text>
</svg>
</body></html>
